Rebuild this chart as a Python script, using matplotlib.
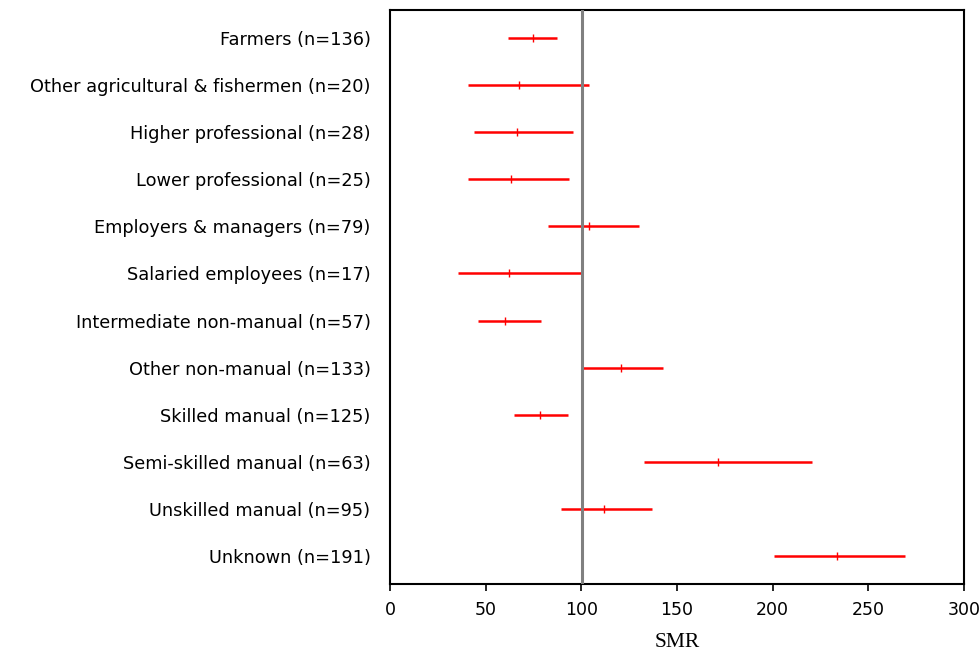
import numpy as np
import matplotlib
matplotlib.use("Agg")
import matplotlib.pyplot as plt

# occupational group SMRs with 95% confidence limits
groups = ["Farmers (n=136)", "Other agricultural & fishermen (n=20)",
          "Higher professional (n=28)", "Lower professional (n=25)",
          "Employers & managers (n=79)", "Salaried employees (n=17)",
          "Intermediate non-manual (n=57)", "Other non-manual (n=133)",
          "Skilled manual (n=125)", "Semi-skilled manual (n=63)",
          "Unskilled manual (n=95)", "Unknown (n=191)"]
smr = [74.6, 67.2, 66.2, 63.1, 103.8, 62.0, 59.9, 120.6, 78.6, 171.6, 112.0, 233.4]
lower = [61.5, 40.6, 43.7, 40.6, 82.4, 35.4, 45.8, 100.2, 64.6, 132.6, 89.6, 200.6]
upper = [87.1, 103.8, 95.5, 93.4, 130.0, 100.3, 78.8, 142.7, 93.2, 220.8, 137.0, 269.0]

plt.rcParams['font.family'] = ['DejaVu Sans']

fig = plt.figure(figsize=(9.8, 6.54), dpi=100)
ax = fig.add_axes([0.398, 0.107, 0.5857, 0.8777])

y = np.arange(len(groups))
ax.hlines(y, lower, upper, colors='red', linewidth=1.8, zorder=2)
ax.plot(smr, y, linestyle='none', marker='|', color='red',
        markersize=6, markeredgewidth=1, zorder=3)
ax.axvline(100.5, color='#808080', linewidth=2.2, zorder=4)

ax.set_xlim(0, 300)
ax.set_ylim(len(groups) - 0.4, -0.6)
ax.set_xticks(np.arange(0, 301, 50))
ax.set_yticks(y)
ax.set_yticklabels(groups, fontsize=12.8)
ax.tick_params(axis='y', length=0, pad=14)
ax.tick_params(axis='x', direction='out', length=5, width=1.2, labelsize=12.5, pad=7)
for s in ax.spines.values():
    s.set_linewidth(1.5)
    s.set_color('black')

ax.set_xlabel("SMR", family='Liberation Serif', fontsize=15.5, labelpad=10)

fig.savefig("out.png", dpi=100)
